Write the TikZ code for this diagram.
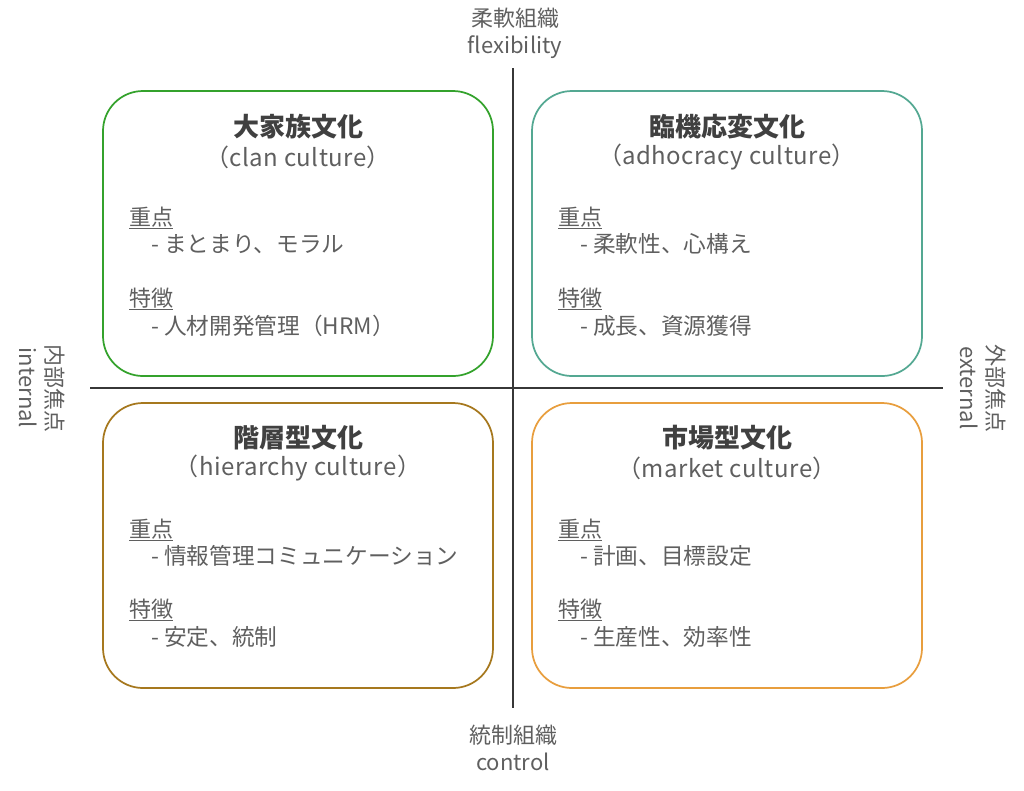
\documentclass[tikz,border=0pt]{standalone}
\usepackage{fontspec}
\setmainfont{Noto Sans CJK JP}
\usepackage{tikz}
\definecolor{clangreen}{RGB}{52,162,44}
\definecolor{adhocteal}{RGB}{84,168,146}
\definecolor{hierbrown}{RGB}{166,120,30}
\definecolor{marketorange}{RGB}{232,158,62}
\definecolor{txtgray}{RGB}{95,95,95}
\definecolor{axisgray}{RGB}{55,55,55}

\begin{document}
\begin{tikzpicture}[x=0.75pt,y=-0.75pt,
    culture/.style={draw,line width=1.3pt,rounded corners=30pt,
      minimum width=292.5pt,minimum height=213.75pt},
    ttl/.style={font=\fontsize{19.5}{22}\selectfont\bfseries,text=black!75},
    sub/.style={font=\fontsize{18}{20}\selectfont\addfontfeature{LetterSpace=2},text=txtgray},
    head/.style={anchor=west,inner sep=0pt,font=\fontsize{16.5}{19}\selectfont,text=txtgray},
    item/.style={anchor=west,inner sep=0pt,font=\fontsize{17}{19}\selectfont,text=txtgray},
    axlbl/.style={font=\fontsize{16.5}{20}\selectfont,text=txtgray,align=center}]
      \useasboundingbox (0,0) rectangle (1024,790);
      % axes
      \coordinate (top) at (513,68);
      \coordinate (bot) at (513,708);
      \coordinate (lft) at (90,388);
      \coordinate (rgt) at (943,388);
      \draw[axisgray,line width=1.1pt] (top) -- (bot);
      \draw[axisgray,line width=1.1pt] (lft) -- (rgt);
      \node[axlbl] (flex) at (515,33) {柔軟組織\\flexibility};
      \node[axlbl] (ctrl) at (513,748) {統制組織\\control};
      \node[axlbl,rotate=-90] (intl) at (42,388) {内部焦点\\internal};
      \node[axlbl,rotate=-90] (extl) at (983,388) {外部焦点\\external};
      % quadrants
      \node[culture,draw=clangreen] (clan) at (298,233.5) {};
      \node[culture,draw=adhocteal] (adhoc) at (727,233.5) {};
      \node[culture,draw=hierbrown] (hier) at (298,545.5) {};
      \node[culture,draw=marketorange] (market) at (727,545.5) {};
      % clan culture
      \node[ttl] (clant) at (298,127) {大家族文化};
      \node[sub] (clans) at (298,157) {（clan culture）};
      \node[head] (clanh1) at (129,218) {\underline{重点}};
      \node[item] (clani1) at (151,244) {- まとまり、モラル};
      \node[head] (clanh2) at (129,299) {\underline{特徴}};
      \node[item] (clani2) at (151,326) {- 人材開発管理（HRM）};
      % adhocracy culture
      \node[ttl] (adhoct) at (727,127) {臨機応変文化};
      \node[sub] (adhocs) at (727,157) {（adhocracy culture）};
      \node[head] (adhoch1) at (558,218) {\underline{重点}};
      \node[item] (adhoci1) at (580,244) {- 柔軟性、心構え};
      \node[head] (adhoch2) at (558,299) {\underline{特徴}};
      \node[item] (adhoci2) at (580,326) {- 成長、資源獲得};
      % hierarchy culture
      \node[ttl] (hiert) at (298,438) {階層型文化};
      \node[sub] (hiers) at (298,468) {（hierarchy culture）};
      \node[head] (hierh1) at (129,530) {\underline{重点}};
      \node[item] (hieri1) at (151,556) {- 情報管理コミュニケーション};
      \node[head] (hierh2) at (129,610) {\underline{特徴}};
      \node[item] (hieri2) at (151,637) {- 安定、統制};
      % market culture
      \node[ttl] (markett) at (727,438) {市場型文化};
      \node[sub] (markets) at (727,468) {（market culture）};
      \node[head] (marketh1) at (558,530) {\underline{重点}};
      \node[item] (marketi1) at (580,556) {- 計画、目標設定};
      \node[head] (marketh2) at (558,610) {\underline{特徴}};
      \node[item] (marketi2) at (580,637) {- 生産性、効率性};
    \end{tikzpicture}
\end{document}
